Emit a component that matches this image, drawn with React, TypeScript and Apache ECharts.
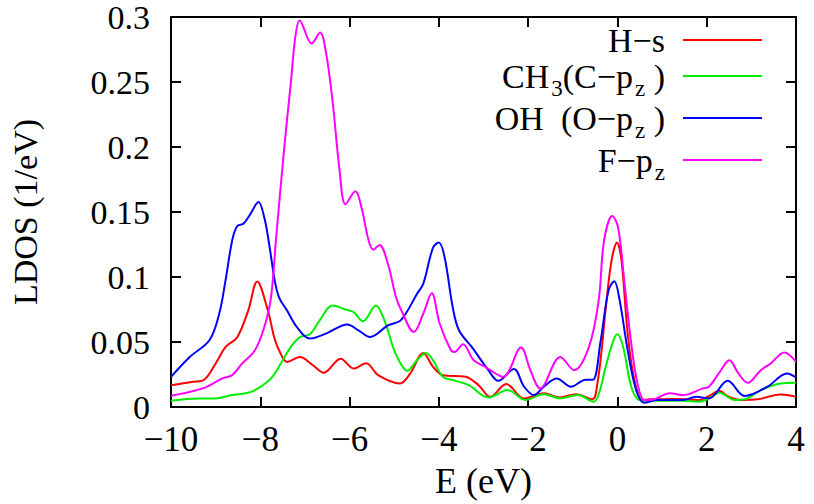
import React, { useEffect, useRef } from "react";
import * as echarts from "echarts";

const FONT = "'Liberation Serif', 'Times New Roman', serif";

const seriesNames = ["H−s", "CH3(C−pz )", "OH  (O−pz )", "F−pz"];
const seriesColors = ["#ff0000", "#00ee00", "#0000ff", "#ff00ff"];

const hS: [number, number][] = [
  [-10, 0.0168], [-9.51, 0.0194], [-9.25, 0.0212], [-9.0, 0.0334], [-8.78, 0.0461], [-8.52, 0.0535],
  [-8.27, 0.0742], [-8.07, 0.0966], [-7.83, 0.0742], [-7.69, 0.0538], [-7.58, 0.0436], [-7.4, 0.0347],
  [-7.11, 0.0385], [-6.82, 0.0321], [-6.58, 0.0263], [-6.2, 0.0372], [-5.91, 0.0296], [-5.63, 0.0337],
  [-5.36, 0.0245], [-4.87, 0.0181], [-4.64, 0.0258], [-4.35, 0.0416], [-4.13, 0.0309], [-3.91, 0.0245],
  [-3.4, 0.0232], [-3.11, 0.0168], [-2.85, 0.0079], [-2.49, 0.0176], [-2.09, 0.0066], [-1.65, 0.0105],
  [-1.29, 0.0074], [-0.93, 0.0099], [-0.56, 0.006], [-0.45, 0.018], [-0.35, 0.045], [-0.25, 0.08],
  [-0.13, 0.113], [-0.01, 0.1265], [0.09, 0.113], [0.23, 0.0564], [0.38, 0.0207], [0.56, 0.0054],
  [0.74, 0.0059], [1.32, 0.0061], [1.83, 0.0054], [2.09, 0.0092], [2.27, 0.0125], [2.49, 0.0079],
  [2.78, 0.0054], [3.14, 0.0059], [3.65, 0.0097], [4, 0.0079],
];

const ch3Cpz: [number, number][] = [
  [-10, 0.0048], [-9.36, 0.0066], [-9.0, 0.0066], [-8.63, 0.0092], [-8.27, 0.011], [-8.05, 0.0143],
  [-7.76, 0.022], [-7.54, 0.0334], [-7.32, 0.0461], [-7.11, 0.0538], [-6.89, 0.0559], [-6.67, 0.0666],
  [-6.38, 0.078], [-6.09, 0.075], [-5.91, 0.073], [-5.7, 0.066], [-5.41, 0.078], [-5.22, 0.0666],
  [-5.0, 0.0436], [-4.85, 0.033], [-4.71, 0.0278], [-4.49, 0.036], [-4.29, 0.0416], [-4.13, 0.036],
  [-3.91, 0.0232], [-3.62, 0.0201], [-3.33, 0.0168], [-2.89, 0.0074], [-2.46, 0.013], [-2.06, 0.0054],
  [-1.65, 0.0099], [-1.29, 0.0066], [-0.89, 0.0092], [-0.53, 0.0041], [-0.4, 0.012], [-0.27, 0.03],
  [-0.09, 0.0513], [0.0, 0.0559], [0.13, 0.046], [0.31, 0.0156], [0.49, 0.0054], [0.74, 0.0048],
  [1.47, 0.0048], [1.83, 0.0041], [2.05, 0.0066], [2.28, 0.011], [2.63, 0.0054], [2.85, 0.0059],
  [3.21, 0.013], [3.65, 0.0181], [4, 0.0186],
];

const ohOpz: [number, number][] = [
  [-10, 0.0232], [-9.58, 0.0385], [-9.14, 0.0513], [-8.92, 0.0717], [-8.78, 0.097], [-8.63, 0.128],
  [-8.52, 0.139], [-8.38, 0.141], [-8.23, 0.148], [-8.04, 0.1577], [-7.91, 0.1457], [-7.8, 0.125],
  [-7.68, 0.098], [-7.58, 0.0844], [-7.4, 0.0742], [-7.18, 0.0615], [-6.89, 0.0526], [-6.53, 0.0564],
  [-6.05, 0.0635], [-5.8, 0.0589], [-5.54, 0.0538], [-5.14, 0.0628], [-4.85, 0.0668], [-4.49, 0.087],
  [-4.35, 0.0947], [-4.13, 0.1227], [-4.0, 0.1265], [-3.87, 0.115], [-3.69, 0.0768], [-3.55, 0.059],
  [-3.26, 0.046], [-2.89, 0.0283], [-2.67, 0.0201], [-2.32, 0.0293], [-2.09, 0.0156], [-1.87, 0.0092],
  [-1.65, 0.0156], [-1.36, 0.022], [-1.04, 0.0156], [-0.71, 0.021], [-0.55, 0.021], [-0.38, 0.05],
  [-0.2, 0.0895], [-0.07, 0.0967], [0.05, 0.082], [0.23, 0.0436], [0.42, 0.013], [0.6, 0.0033],
  [0.89, 0.0054], [1.47, 0.0054], [1.76, 0.0079], [2.05, 0.0066], [2.47, 0.0201], [2.85, 0.0084],
  [3.36, 0.0156], [3.8, 0.0258], [4, 0.0227],
];

const fPz: [number, number][] = [
  [-10, 0.0087], [-9.29, 0.0143], [-8.85, 0.022], [-8.63, 0.0245], [-8.41, 0.0334], [-8.12, 0.0436],
  [-7.91, 0.0615], [-7.76, 0.0844], [-7.65, 0.128], [-7.47, 0.197], [-7.32, 0.248], [-7.21, 0.286],
  [-7.12, 0.2974], [-6.85, 0.2796], [-6.66, 0.288], [-6.53, 0.273], [-6.38, 0.235], [-6.23, 0.184],
  [-6.09, 0.156], [-5.87, 0.166], [-5.73, 0.153], [-5.58, 0.129], [-5.47, 0.121], [-5.33, 0.1247],
  [-5.14, 0.11], [-4.96, 0.0844], [-4.85, 0.075], [-4.56, 0.0577], [-4.35, 0.0717], [-4.16, 0.0875],
  [-3.98, 0.064], [-3.73, 0.0436], [-3.65, 0.0423], [-3.46, 0.0482], [-3.22, 0.036], [-2.96, 0.0309],
  [-2.56, 0.0232], [-2.16, 0.0457], [-1.95, 0.0283], [-1.73, 0.0143], [-1.28, 0.0385], [-0.97, 0.0283],
  [-0.64, 0.046], [-0.42, 0.082], [-0.3, 0.128], [-0.115, 0.147], [0.016, 0.138], [0.16, 0.0947],
  [0.31, 0.0487], [0.45, 0.018], [0.6, 0.0054], [0.74, 0.0054], [1.18, 0.0105], [1.47, 0.0092],
  [1.91, 0.0143], [2.05, 0.0156], [2.27, 0.0258], [2.51, 0.036], [2.71, 0.0258], [2.92, 0.0186],
  [3.21, 0.0283], [3.43, 0.0334], [3.74, 0.0419], [4, 0.0347],
];

const seriesData = [hS, ch3Cpz, ohOpz, fPz];

const legendRich: Record<string, string> = {
  "H−s": "{n|H−s}",
  "CH3(C−pz )": "{n|CH}{s|3}{n|(C−p}{s|z}{n| )}",
  "OH  (O−pz )": "{n|OH  (O−p}{s|z}{n| )}",
  "F−pz": "{n|F−p}{s|z}",
};

const xMin = -10, xMax = 4, xStep = 2;
const yMin = 0, yMax = 0.3, yStep = 0.05;

const minusFmt = (v: number) => {
  const s = String(Math.round(v * 1000) / 1000);
  return s.replace("-", "\u2212");
};

export default function App() {
  const ref = useRef<HTMLDivElement>(null);
  useEffect(() => {
    if (!ref.current) return;
    const chart = echarts.init(ref.current, undefined, { renderer: "svg" });
    const axisLine = { show: true, onZero: false, lineStyle: { color: "#000", width: 2 } };
    const tick = { show: true, inside: true, length: 10, lineStyle: { color: "#000", width: 2 } };
    chart.setOption({
      animation: false,
      backgroundColor: "#fff",
      grid: { left: 154, right: 18, top: 15, bottom: 97, containLabel: false },
      legend: {
        orient: "vertical",
        right: 47,
        top: 17,
        align: "right",
        itemWidth: 79,
        itemHeight: 2,
        itemGap: 0,
        icon: "rect",
        data: seriesNames.map((n, i) => ({ name: n, itemStyle: { color: seriesColors[i] } })),
        formatter: (name: string) => legendRich[name] || name,
        textStyle: {
          fontFamily: FONT,
          fontSize: 34,
          lineHeight: 36,
          color: "#000",
          padding: [0, 13, 0, 0],
          rich: {
            n: { fontFamily: FONT, fontSize: 34, color: "#000", lineHeight: 36 },
            s: {
              fontFamily: FONT, fontSize: 23, color: "#000", lineHeight: 23,
              verticalAlign: "top", padding: [19, 0, 0, 2],
            },
          },
        },
      },
      xAxis: [
        {
          type: "value", min: xMin, max: xMax, interval: xStep, position: "bottom",
          axisLine, axisTick: tick, splitLine: { show: false },
          axisLabel: { color: "#000", fontFamily: FONT, fontSize: 35, margin: 15, formatter: minusFmt },
          name: "E (eV)", nameLocation: "middle", nameGap: 56,
          nameTextStyle: { color: "#000", fontFamily: FONT, fontSize: 36 },
        },
        {
          type: "value", min: xMin, max: xMax, interval: xStep, position: "top",
          axisLine, axisTick: tick, splitLine: { show: false }, axisLabel: { show: false },
        },
      ],
      yAxis: [
        {
          type: "value", min: yMin, max: yMax, interval: yStep, position: "left",
          axisLine, axisTick: tick, splitLine: { show: false },
          axisLabel: {
            color: "#000", fontFamily: FONT, fontSize: 34, lineHeight: 20, margin: 21,
            padding: [10, 0, 0, 0],
            formatter: (v: number) => String(Math.round(v * 1000) / 1000),
          },
          name: "LDOS (1/eV)", nameLocation: "middle", nameGap: 129,
          nameTextStyle: { color: "#000", fontFamily: FONT, fontSize: 34 },
        },
        {
          type: "value", min: yMin, max: yMax, interval: yStep, position: "right",
          axisLine, axisTick: tick, splitLine: { show: false }, axisLabel: { show: false },
        },
      ],
      series: seriesData.map((d, i) => ({
        name: seriesNames[i],
        type: "line",
        data: d,
        xAxisIndex: 0,
        yAxisIndex: 0,
        showSymbol: false,
        symbol: "none",
        smooth: 0.35,
        lineStyle: { color: seriesColors[i], width: 2 },
        itemStyle: { color: seriesColors[i] },
      })),
    });
    return () => chart.dispose();
  }, []);
  return <div ref={ref} style={{ width: 814, height: 504, position: "absolute", left: 0, top: 0 }} />;
}
